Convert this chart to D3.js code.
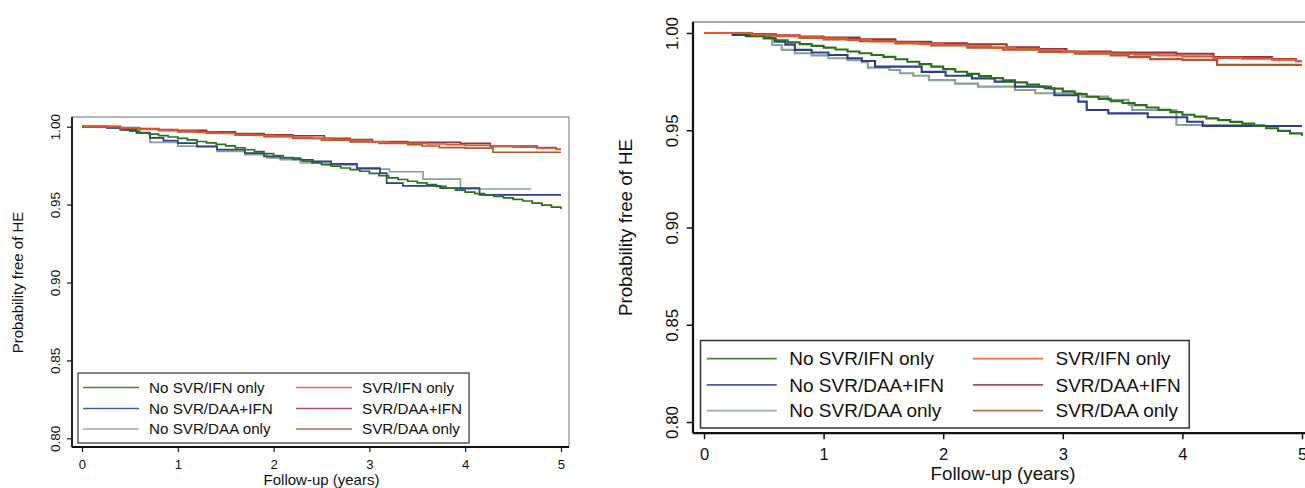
<!DOCTYPE html>
<html>
<head>
<meta charset="utf-8">
<script src="https://cdn.jsdelivr.net/npm/d3@7"></script>
<style>
  html, body { margin: 0; padding: 0; background: #fff; }
  svg { display: block; }
  text { font-family: "Liberation Sans", Arial, Helvetica, sans-serif; fill: #111; }
</style>
</head>
<body>
<svg id="chart" width="1305" height="488"></svg>
<script>
// Axis ticks and labels
const xTicks = [0, 1, 2, 3, 4, 5];
const yTicks = [0.80, 0.85, 0.90, 0.95, 1.00];
const xTitle = "Follow-up (years)";
const yTitle = "Probability free of HE";

// Groups, in legend order (left column, then right column)
const groupNames = ["No SVR/IFN only", "No SVR/DAA+IFN", "No SVR/DAA only",
                    "SVR/IFN only", "SVR/DAA+IFN", "SVR/DAA only"];
const groupColors = ["#2a7018", "#2a3f8f", "#86a196", "#e2572b", "#8e3440", "#a65a35"];

// Kaplan-Meier estimates: [years, probability free of HE]
const noSvrIfnOnly = [[0,1],[0.25,1],[0.3,0.9995],[0.4,0.9985],[0.5,0.9972],[0.6,0.9962],[0.7,0.9952],
  [0.8,0.9943],[0.9,0.9934],[1.0,0.9925],[1.1,0.9915],[1.2,0.9905],[1.3,0.9896],[1.4,0.9887],
  [1.5,0.9877],[1.6,0.9865],[1.7,0.9852],[1.8,0.984],[1.9,0.9827],[2.0,0.9814],[2.1,0.9801],
  [2.2,0.979],[2.3,0.9779],[2.4,0.9768],[2.5,0.9757],[2.6,0.9746],[2.7,0.9735],[2.8,0.9724],
  [2.9,0.9714],[3.0,0.97],[3.1,0.9686],[3.2,0.9672],[3.3,0.9661],[3.4,0.965],[3.5,0.964],
  [3.6,0.9629],[3.7,0.9617],[3.8,0.9605],[3.9,0.9593],[4.0,0.958],[4.1,0.957],[4.2,0.9561],
  [4.3,0.9552],[4.4,0.9543],[4.5,0.9534],[4.6,0.9523],[4.7,0.951],[4.8,0.9497],[4.9,0.9484],[5.0,0.9472]];

const svrIfnOnly = [[0,1],[0.24,1],[0.4,0.9992],[0.6,0.9985],[0.8,0.9978],[1.0,0.9971],[1.2,0.9964],
  [1.4,0.9957],[1.6,0.995],[1.8,0.9944],[2.0,0.9938],[2.2,0.9931],[2.4,0.9925],[2.6,0.9919],
  [2.8,0.9912],[3.0,0.9903],[3.2,0.9898],[3.4,0.9893],[3.6,0.9889],[3.8,0.9885],[4.0,0.988],
  [4.26,0.9872],[4.5,0.9868],[4.75,0.9863],[4.95,0.9856],[5.0,0.9856]];

const svrDaaIfn = [[0,1],[0.24,1],[0.4,0.9994],[0.6,0.9988],[0.8,0.9982],[1.0,0.9976],[1.3,0.9967],
  [1.6,0.9955],[1.9,0.9947],[2.2,0.9942],[2.53,0.9926],[2.8,0.9918],[3.03,0.9905],[3.4,0.9899],
  [3.95,0.9893],[4.26,0.9876],[4.75,0.9866],[4.95,0.9855],[5.0,0.9855]];

const svrDaaOnly = [[0,1],[0.24,1],[0.4,0.9991],[0.6,0.9983],[0.8,0.9975],[1.0,0.9967],[1.3,0.9958],
  [1.6,0.9946],[1.9,0.9936],[2.2,0.9925],[2.5,0.9914],[2.8,0.9903],[3.1,0.9893],[3.4,0.9885],
  [3.55,0.9876],[3.73,0.9866],[4.0,0.9862],[4.29,0.9836],[5.0,0.9836]];

// Panel A: treatment groups without SVR
const noSvrDaaIfnA = [[0,1],[0.26,0.9992],[0.4,0.998],[0.57,0.996],[0.71,0.9928],[0.85,0.991],
  [1.0,0.9895],[1.2,0.9872],[1.41,0.9853],[1.7,0.983],[1.9,0.981],[2.07,0.9799],[2.28,0.9788],
  [2.41,0.9777],[2.6,0.9762],[2.87,0.9734],[3.11,0.9702],[3.18,0.9638],[3.35,0.962],[3.74,0.9606],
  [4.15,0.9563],[5.0,0.9563]];

const noSvrDaaOnlyA = [[0,1],[0.26,0.9992],[0.45,0.998],[0.57,0.9958],[0.71,0.99],[1.0,0.9875],
  [1.41,0.9842],[1.7,0.982],[1.93,0.98],[2.07,0.9788],[2.28,0.9767],[2.59,0.9754],[2.87,0.9728],
  [3.21,0.9711],[3.56,0.9664],[3.95,0.96],[4.69,0.96]];

// Panel B: treatment groups without SVR
const noSvrDaaIfnB = [[0,1],[0.24,0.999],[0.35,0.9984],[0.5,0.9975],[0.59,0.9955],[0.68,0.994],
  [0.76,0.9913],[0.9,0.99],[1.04,0.9887],[1.2,0.987],[1.32,0.9856],[1.43,0.9827],[1.82,0.98],
  [2.02,0.978],[2.24,0.9767],[2.43,0.975],[2.6,0.9724],[2.85,0.9716],[2.93,0.968],[3.13,0.9647],
  [3.2,0.9604],[3.38,0.9587],[3.71,0.9567],[4.04,0.9544],[4.17,0.9522],[5.0,0.9522]];

const noSvrDaaOnlyB = [[0,1],[0.28,0.9992],[0.45,0.9985],[0.57,0.9938],[0.65,0.9913],[0.76,0.9896],
  [0.9,0.9885],[1.04,0.987],[1.2,0.986],[1.32,0.985],[1.37,0.9822],[1.55,0.981],[1.64,0.9793],
  [1.75,0.978],[1.88,0.9758],[2.1,0.974],[2.29,0.9724],[2.6,0.9707],[2.77,0.969],[3.16,0.9673],
  [3.38,0.9656],[3.55,0.963],[3.58,0.9604],[3.95,0.9527],[4.69,0.9527]];

const svg = d3.select("#chart");

function drawPanel(cfg) {
  const k = cfg.k;
  const g = svg.append("g");
  const x = d3.scaleLinear().domain([0, 5]).range(cfg.xRange);
  const y = d3.scaleLinear().domain([0.8, 1.0]).range(cfg.yRange);
  const f = cfg.frame;

  // plot region outline
  g.append("rect")
    .attr("x", f.l).attr("y", f.t)
    .attr("width", f.r - f.l).attr("height", f.b - f.t)
    .attr("fill", "none").attr("stroke", "#8a8a8a").attr("stroke-width", 1.2 * k);

  // curves (drawn so the treated-with-SVR groups sit on top)
  const order = [2, 1, 0, 5, 4, 3];
  const line = d3.line().x(d => x(d[0])).y(d => y(d[1])).curve(d3.curveStepAfter);
  order.forEach(i => {
    g.append("path").attr("d", line(cfg.series[i]))
      .attr("fill", "none").attr("stroke", groupColors[i])
      .attr("stroke-width", 1.7 * k).attr("stroke-linejoin", "miter");
  });

  // x axis
  const xAxis = g.append("g").attr("transform", `translate(0,${f.b})`)
    .call(d3.axisBottom(x).tickValues(xTicks).tickFormat(d3.format("d"))
      .tickSize(5 * k).tickPadding(7.5 * k));
  xAxis.select(".domain").attr("d", `M${f.l},0H${f.r}`).attr("stroke", "#111").attr("stroke-width", 1.8 * k);
  xAxis.selectAll(".tick line").attr("stroke", "#111").attr("stroke-width", 1.2 * k);
  xAxis.selectAll(".tick text").attr("font-size", 13.2 * k).attr("fill", "#111")
    .style("font-family", '"Liberation Sans", Arial, sans-serif');

  // y axis with vertical tick labels
  const yAxis = g.append("g").attr("transform", `translate(${f.l},0)`)
    .call(d3.axisLeft(y).tickValues(yTicks).tickFormat(d3.format(".2f")).tickSize(5 * k));
  yAxis.select(".domain").attr("d", `M0,${f.t}V${f.b}`).attr("stroke", "#111").attr("stroke-width", 1.8 * k);
  yAxis.selectAll(".tick line").attr("stroke", "#111").attr("stroke-width", 1.2 * k);
  yAxis.selectAll(".tick text")
    .attr("x", null).attr("dy", null)
    .attr("transform", `translate(${-17 * k},0) rotate(-90)`)
    .attr("text-anchor", "middle").attr("dy", "0.36em")
    .attr("font-size", 13.5 * k).attr("fill", "#111")
    .style("font-family", '"Liberation Sans", Arial, sans-serif');

  // axis titles
  g.append("text")
    .attr("x", x(2.5)).attr("y", f.b + 32.5 * k).attr("dy", "0.36em")
    .attr("text-anchor", "middle").attr("font-size", 15 * k).text(xTitle);
  g.append("text")
    .attr("transform", `translate(${f.l - 54 * k},${y(0.9)}) rotate(-90)`)
    .attr("dy", "0.36em").attr("text-anchor", "middle").attr("font-size", 15 * k).text(yTitle);

  // legend
  const bx = f.l + 6 * k, bw = 391 * k, bh = 70 * k, by = f.b - 4 * k - bh;
  const lg = g.append("g");
  lg.append("rect").attr("x", bx).attr("y", by).attr("width", bw).attr("height", bh)
    .attr("fill", "#fff").attr("stroke", "#333").attr("stroke-width", 1.2 * k);
  const rows = [14.5, 35.5, 56];
  groupNames.forEach((name, i) => {
    const col = Math.floor(i / 3), row = i % 3;
    const x0 = bx + (col === 0 ? 5 : 218) * k;
    const yy = by + rows[row] * k;
    lg.append("line").attr("x1", x0).attr("x2", x0 + 56 * k).attr("y1", yy).attr("y2", yy)
      .attr("stroke", groupColors[i]).attr("stroke-width", 1.4 * k).attr("opacity", 0.85);
    lg.append("text").attr("x", x0 + 66 * k).attr("y", yy).attr("dy", "0.36em")
      .attr("font-size", 15.2 * k).text(name);
  });
}

drawPanel({
  k: 1,
  frame: { l: 72, t: 117, r: 569, b: 447 },
  xRange: [82, 561],
  yRange: [438.3, 126.7],
  series: [noSvrIfnOnly, noSvrDaaIfnA, noSvrDaaOnlyA, svrIfnOnly, svrDaaIfn, svrDaaOnly]
});

drawPanel({
  k: 1.25,
  frame: { l: 693, t: 22, r: 1313, b: 433 },
  xRange: [704, 1302],
  yRange: [422, 33],
  series: [noSvrIfnOnly, noSvrDaaIfnB, noSvrDaaOnlyB, svrIfnOnly, svrDaaIfn, svrDaaOnly]
});
</script>
</body>
</html>
